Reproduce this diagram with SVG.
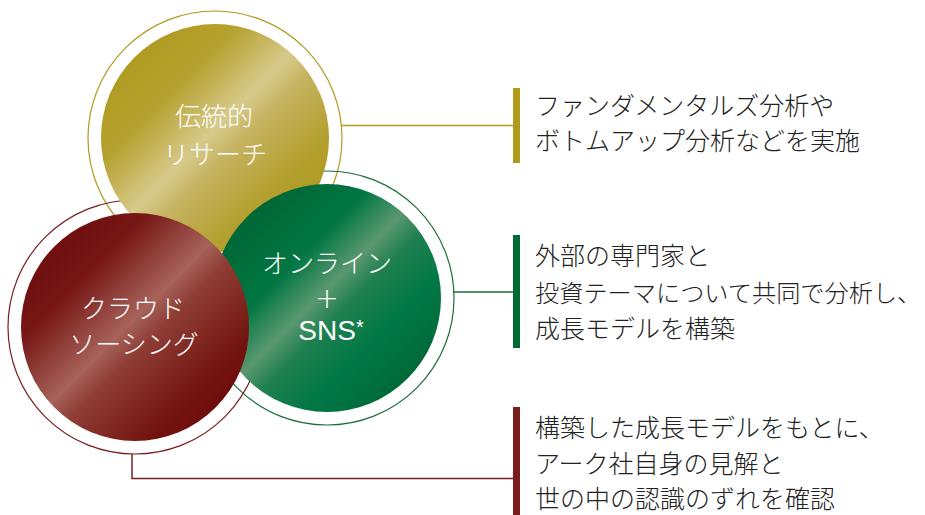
<svg xmlns="http://www.w3.org/2000/svg" width="925" height="515" viewBox="0 0 925 515">
<defs>
<linearGradient id="gGold" x1="0" y1="0" x2="1" y2="1">
<stop offset="0" stop-color="#ab9616"/>
<stop offset="0.3" stop-color="#b5a12e"/>
<stop offset="0.48" stop-color="#d7ca8b"/>
<stop offset="0.56" stop-color="#c6b462"/>
<stop offset="0.75" stop-color="#b39f2c"/>
<stop offset="1" stop-color="#aa9515"/>
</linearGradient>
<linearGradient id="gRed" x1="0" y1="0" x2="1" y2="1">
<stop offset="0" stop-color="#680108"/>
<stop offset="0.28" stop-color="#771816"/>
<stop offset="0.48" stop-color="#a7625a"/>
<stop offset="0.56" stop-color="#8e3d35"/>
<stop offset="0.78" stop-color="#731310"/>
<stop offset="1" stop-color="#670007"/>
</linearGradient>
<linearGradient id="gGreen" x1="0" y1="0" x2="1" y2="1">
<stop offset="0" stop-color="#005c2b"/>
<stop offset="0.35" stop-color="#007643"/>
<stop offset="0.48" stop-color="#5b9770"/>
<stop offset="0.56" stop-color="#1f8050"/>
<stop offset="0.7" stop-color="#007846"/>
<stop offset="1" stop-color="#005a2a"/>
</linearGradient>
<style>
.ring{fill:none;stroke-width:1.2}
.lbl{font-family:"Noto Sans CJK JP","Noto Sans",sans-serif;font-size:26px;font-weight:300;fill:#ffffff;text-anchor:middle}
.lat{font-family:"Liberation Sans",Arial,sans-serif;font-size:28px;fill:#ffffff;text-anchor:middle}
.plus{font-family:"DejaVu Sans",sans-serif;font-size:28px;font-weight:200;fill:#ffffff;text-anchor:middle}
.desc{font-family:"Noto Sans CJK JP","Noto Sans",sans-serif;font-size:25px;font-weight:300;fill:#222222}
.con{fill:none;stroke-width:1.5}
</style>
</defs>
<rect width="925" height="515" fill="#ffffff"/>
<g id="rings">
<circle class="ring" cx="215" cy="138" r="127" stroke="#b09a1e"/>
<circle class="ring" cx="327" cy="298" r="127" stroke="#1c6e3c"/>
<circle class="ring" cx="135" cy="327" r="127" stroke="#7a1f22"/>
</g>
<g id="connectors">
<path class="con" d="M341 125.5 H514" stroke="#b09a1e"/>
<path class="con" d="M453 292 H514" stroke="#1c6e3c"/>
<path class="con" d="M132 454 V478.5 H514" stroke="#7a1f22"/>
<rect x="513" y="88" width="7" height="75" fill="#b09a1e"/>
<rect x="513" y="235" width="7" height="113" fill="#006a35"/>
<rect x="513" y="407" width="7" height="108" fill="#7b1d1d"/>
</g>
<g id="node-research">
<circle cx="215" cy="138" r="114" fill="url(#gGold)"/>
<text class="lbl" x="214" y="126">伝統的</text>
<text class="lbl" x="215" y="164">リサーチ</text>
</g>
<g id="node-online">
<circle cx="327" cy="298" r="114" fill="url(#gGreen)"/>
<text class="lbl" x="327" y="273">オンライン</text>
<text class="plus" x="327" y="308">+</text>
<text class="lat" x="331" y="340">SNS<tspan style="font-size:20px" dy="-6">*</tspan></text>
</g>
<g id="node-crowd">
<circle cx="135" cy="327" r="114" fill="url(#gRed)"/>
<text class="lbl" x="133" y="318">クラウド</text>
<text class="lbl" x="134" y="354">ソーシング</text>
</g>
<g id="desc-research">
<text class="desc" x="535" y="115">ファンダメンタルズ分析や</text>
<text class="desc" x="535" y="150">ボトムアップ分析などを実施</text>
</g>
<g id="desc-online">
<text class="desc" x="535" y="265">外部の専門家と</text>
<text class="desc" x="535" y="302" style="font-size:24.2px">投資テーマについて共同で分析し、</text>
<text class="desc" x="535" y="338">成長モデルを構築</text>
</g>
<g id="desc-crowd">
<text class="desc" x="535" y="437">構築した成長モデルをもとに、</text>
<text class="desc" x="535" y="473">アーク社自身の見解と</text>
<text class="desc" x="535" y="508">世の中の認識のずれを確認</text>
</g>
</svg>
